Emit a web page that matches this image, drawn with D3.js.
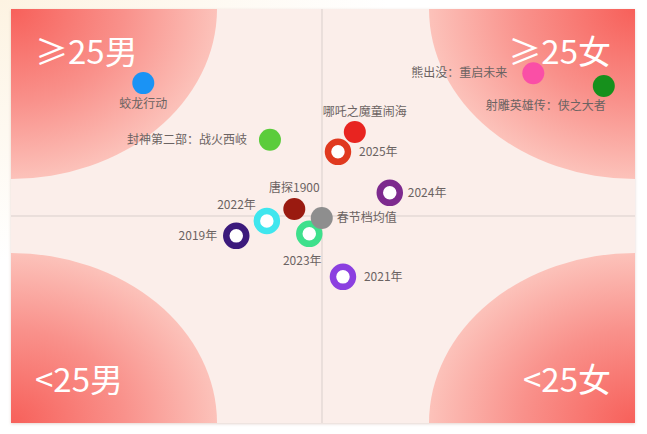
<!DOCTYPE html>
<html>
<head>
<meta charset="utf-8">
<script src="https://cdn.jsdelivr.net/npm/d3@7"></script>
<style>
  html, body { margin: 0; padding: 0; background: #ffffff; }
  svg { display: block; }
  text { font-family: "Noto Sans CJK SC", "Noto Sans", sans-serif; }
</style>
</head>
<body>
<svg id="chart" width="647" height="434"></svg>
<script>
// ---- data ----
const movieNames = ["蛟龙行动", "封神第二部：战火西岐", "哪吒之魔童闹海", "熊出没：重启未来", "射雕英雄传：侠之大者", "唐探1900", "春节档均值"];
const movieX = [-28.8, -8.5, 5.1, 33.7, 45.0, -4.6, -0.2];
const movieY = [32.1, 18.4, 20.3, 34.5, 31.4, 1.7, -0.5];
const movieColors = ["#1a93f5", "#5bcc3b", "#e82420", "#fa4fa6", "#16901c", "#9a1a10", "#8e8e8e"];

const yearNames = ["2025年", "2024年", "2022年", "2019年", "2023年", "2021年"];
const yearX = [2.4, 10.7, -9.0, -13.9, -2.2, 3.2];
const yearY = [15.5, 5.6, -1.2, -4.8, -4.3, -14.7];
const yearColors = ["#e0391f", "#7d2a8e", "#3fe6ee", "#3c1a7c", "#3ee08c", "#8b3fe0"];

const quadrantLabels = ["≥25男", "≥25女", "<25男", "<25女"];
const xDomain = [-50, 50];
const yDomain = [-50, 50];

// ---- layout ----
const svg = d3.select("#chart");
const L = 11, R = 635, T = 9, B = 423;
const x = d3.scaleLinear().domain(xDomain).range([L, R]);
const y = d3.scaleLinear().domain(yDomain).range([B, T]);

const defs = svg.append("defs");
// faint warm glow in outer top-left
const glow = defs.append("radialGradient").attr("id", "glow").attr("cx", 0).attr("cy", 0).attr("r", 0.6);
glow.append("stop").attr("offset", 0).attr("stop-color", "#fdf3e2");
glow.append("stop").attr("offset", 1).attr("stop-color", "#ffffff");
svg.append("rect").attr("width", 647).attr("height", 434).attr("fill", "url(#glow)");

const shadow = defs.append("filter").attr("id", "sh").attr("x", -0.05).attr("y", -0.05).attr("width", 1.1).attr("height", 1.1);
shadow.append("feDropShadow").attr("dx", 0).attr("dy", 1).attr("stdDeviation", 1.5).attr("flood-color", "#c9a9a0").attr("flood-opacity", 0.5);

defs.append("clipPath").attr("id", "plotclip")
  .append("rect").attr("x", L).attr("y", T).attr("width", R - L).attr("height", B - T);

svg.append("rect").attr("x", L).attr("y", T).attr("width", R - L).attr("height", B - T)
  .attr("fill", "#fbeeea").attr("filter", "url(#sh)");

const grad = defs.append("radialGradient").attr("id", "corner");
grad.append("stop").attr("offset", 0).attr("stop-color", "#f7605a");
grad.append("stop").attr("offset", 0.55).attr("stop-color", "#f9918b");
grad.append("stop").attr("offset", 1).attr("stop-color", "#fcc2ba");

const corners = [[xDomain[0], yDomain[1]], [xDomain[1], yDomain[1]], [xDomain[0], yDomain[0]], [xDomain[1], yDomain[0]]];
const plot = svg.append("g").attr("clip-path", "url(#plotclip)");
plot.selectAll("ellipse.corner").data(corners).join("ellipse")
  .attr("class", "corner")
  .attr("cx", d => x(d[0])).attr("cy", d => y(d[1]))
  .attr("rx", 206).attr("ry", 170)
  .attr("fill", "url(#corner)");

// crosshair
plot.append("line").attr("x1", x(0) - 1).attr("x2", x(0) - 1).attr("y1", T).attr("y2", B)
  .attr("stroke", "#d9cfcc").attr("stroke-width", 1);
plot.append("line").attr("x1", L).attr("x2", R).attr("y1", y(0)).attr("y2", y(0))
  .attr("stroke", "#d9cfcc").attr("stroke-width", 1);

// quadrant labels
const qpos = [
  { x: L + 24, y: T + 55, anchor: "start" },
  { x: R - 24, y: T + 55, anchor: "end" },
  { x: L + 24, y: B - 31, anchor: "start" },
  { x: R - 24, y: B - 31, anchor: "end" }
];
svg.selectAll("text.quad").data(quadrantLabels).join("text")
  .attr("class", "quad")
  .attr("x", (d, i) => qpos[i].x).attr("y", (d, i) => qpos[i].y)
  .attr("text-anchor", (d, i) => qpos[i].anchor)
  .attr("fill", "#ffffff").attr("font-size", 33).attr("font-weight", 400)
  .text(d => d);

// marks
const movies = movieNames.map((n, i) => ({ name: n, x: movieX[i], y: movieY[i], color: movieColors[i] }));
const years = yearNames.map((n, i) => ({ name: n, x: yearX[i], y: yearY[i], color: yearColors[i] }));

svg.selectAll("circle.year").data(years).join("circle")
  .attr("class", "year")
  .attr("cx", d => x(d.x)).attr("cy", d => y(d.y)).attr("r", 10)
  .attr("fill", "#ffffff").attr("stroke", d => d.color).attr("stroke-width", 6.5);

svg.selectAll("circle.movie").data(movies).join("circle")
  .attr("class", "movie")
  .attr("cx", d => x(d.x)).attr("cy", d => y(d.y)).attr("r", 11)
  .attr("fill", d => d.color);

// label placement (offsets from the mark)
const place = {
  "蛟龙行动": [0, 25, "middle"],
  "封神第二部：战火西岐": [-23, 4, "end"],
  "哪吒之魔童闹海": [10, -16, "middle"],
  "熊出没：重启未来": [-26, 4, "end"],
  "射雕英雄传：侠之大者": [2, 24, "end"],
  "唐探1900": [0, -17, "middle"],
  "春节档均值": [15, 4, "start"],
  "2025年": [21, 4, "start"],
  "2024年": [18, 4, "start"],
  "2022年": [-11, -12, "end"],
  "2019年": [-19, 4, "end"],
  "2023年": [-7, 31, "middle"],
  "2021年": [21, 4, "start"]
};
svg.selectAll("text.lbl").data(movies.concat(years)).join("text")
  .attr("class", "lbl")
  .attr("x", d => x(d.x) + place[d.name][0])
  .attr("y", d => y(d.y) + place[d.name][1])
  .attr("text-anchor", d => place[d.name][2])
  .attr("font-size", 12).attr("fill", "#6b6362")
  .text(d => d.name);
</script>
</body>
</html>
